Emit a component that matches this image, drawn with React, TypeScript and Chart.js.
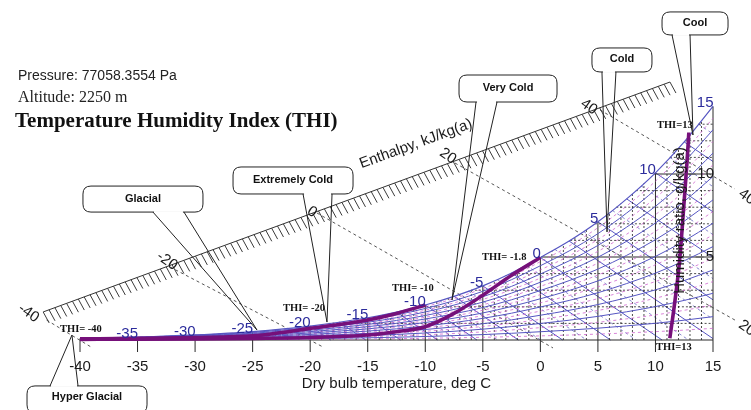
import React, { useEffect, useRef } from "react";
import { Chart, registerables } from "chart.js";

Chart.register(...registerables);

// ---------------- data ----------------
const PRESSURE_TEXT = "Pressure: 77058.3554 Pa";
const ALTITUDE_TEXT = "Altitude: 2250 m";
const TITLE_TEXT = "Temperature Humidity Index (THI)";
const X_TITLE = "Dry bulb temperature, deg C";
const Y_TITLE = "Humidity ratio, g/kg(a)";
const ENTH_TITLE = "Enthalpy, kJ/kg(a)";

const X_TICKS = [-40, -35, -30, -25, -20, -15, -10, -5, 0, 5, 10, 15];
const Y_TICKS = [5, 10];
const SAT_LABEL_T = [-35, -30, -25, -20, -15, -10, -5, 0, 5, 10, 15];

// saturation curve (dry bulb deg C, humidity ratio g/kg)
const SAT_T = [-40, -35, -30, -25, -20, -15, -12.5, -10, -7.5, -5, -2.5, 0, 2.5, 5, 7.5, 10, 12.5, 15];
const SAT_W = [0.1, 0.18, 0.31, 0.51, 0.84, 1.34, 1.68, 2.11, 2.63, 3.26, 4.04, 4.97, 5.96, 7.12, 8.5, 10.07, 11.93, 14.07];

const RH_LEVELS = [10, 20, 30, 40, 50, 60, 70, 80, 90];
const RH_HALF_LEVELS = [5, 15, 25, 35, 45, 55, 65, 75, 85, 95];
const WB_LEVELS = [-20, -17.5, -15, -12.5, -10, -7.5, -5, -2.5, 0, 2.5, 5, 7.5, 10, 12.5];
const WB_DASH_LEVELS = [-16.25, -13.75, -11.25, -8.75, -6.25, -3.75, -1.25, 1.25, 3.75, 6.25, 8.75, 11.25, 13.75];
const WB_SLOPE = 0.47; // g/kg per deg C

// enthalpy scale
const ENTH_LABELS = ["-40", "-20", "0", "20", "40"];
const ENTH_START_T = [-42.9, -32.18, -19.41, -7.42, 5.18];
const ENTH_START_W = [1.2, 4.4, 7.65, 10.66, 13.86];
const ENTH_END_T = [-38.9, -18.89, 1.1, 16.91, 16.9];
const ENTH_END_W = [-0.48, -0.42, -0.48, 1.2, 9.1];
const ENTH_END_LABELS = ["", "", "", "20", "40"];
const SCALE_T = [-43.2, 11.26];
const SCALE_W = [1.69, 15.54];

// THI curves
const THI_HIGH_T = [-40, -35, -30, -25, -22.5, -20, -17.5, -15, -12.5, -10];
const THI_HIGH_W = [0.07, 0.1, 0.15, 0.25, 0.45, 0.7, 0.93, 1.2, 1.6, 2.11];
const THI_LOW_T = [-40, -35, -30, -25, -20, -15, -12.5, -10, -7.5, -5, -2.5, 0];
const THI_LOW_W = [0.04, 0.05, 0.07, 0.1, 0.15, 0.3, 0.5, 0.8, 1.6, 2.7, 3.9, 4.97];
const THI13_T = [11.25, 11.7, 12.1, 12.55, 12.75, 12.9];
const THI13_W = [0.1, 2.4, 4.8, 8.9, 10.8, 12.5];

const THI_LABELS = ["THI= -40", "THI= -20", "THI= -10", "THI= -1.8", "THI=13", "THI=13"];
const THI_LABEL_T = [-41.74, -22.36, -12.89, -5.07, 10.13, 10.05];
const THI_LABEL_W = [0.48, 1.75, 2.95, 4.82, 12.77, -0.6];

const ZONES = ["Hyper Glacial", "Glacial", "Extremely Cold", "Very Cold", "Cold", "Cool"];
const ZONE_TIP_T = [-40.7, -24.62, -18.54, -7.68, 5.79, 13.26];
const ZONE_TIP_W = [0.3, 0.6, 1.08, 2.41, 6.51, 12.35];

// ---------------- layout / style ----------------
const CALLOUT_LAYOUT = [
  { boxT: -39.39, boxW: -3.58, width: 120, height: 27, tail: [-37, -9], side: "top" },
  { boxT: -34.53, boxW: 8.49, width: 120, height: 26, tail: [10, 41], side: "bottom" },
  { boxT: -21.49, boxW: 9.61, width: 120, height: 27, tail: [10, 39], side: "bottom" },
  { boxT: -2.81, boxW: 15.15, width: 98, height: 27, tail: [-32, -11], side: "bottom" },
  { boxT: 7.09, boxW: 16.87, width: 60, height: 24, tail: [-20, -6], side: "bottom" },
  { boxT: 13.44, boxW: 19.07, width: 66, height: 23, tail: [-23, -5], side: "bottom" },
];
const ENTH_LABEL_OFFSETS = [[-18, -7], [-3, -6], [-5, -1], [-7, -7], [-11, -3]];
const ENTH_TITLE_POS = { t: -10.81, w: 11.81 };
const Y_TITLE_POS = { t: 12.15, w: 7.2 };

const PURPLE = "#76107a";
const BLUE = "#5656c2";
const LABEL_BLUE = "#2c2c9c";
const MAGENTA = "rgba(205,95,205,0.85)";
const SANS = "'Liberation Sans', Arial, sans-serif";
const SERIF = "'Liberation Serif', 'Times New Roman', serif";

// ---------------- helpers ----------------
function interp(xs: number[], ys: number[], v: number) {
  if (v <= xs[0]) return ys[0];
  for (let i = 1; i < xs.length; i++) {
    if (v <= xs[i]) {
      const f = (v - xs[i - 1]) / (xs[i] - xs[i - 1]);
      return ys[i - 1] + f * (ys[i] - ys[i - 1]);
    }
  }
  return ys[ys.length - 1];
}
const satW = (t: number) => interp(SAT_T, SAT_W, t);
const satT = (w: number) => interp(SAT_W, SAT_T, w);
const zip = (a: number[], b: number[]) => a.map((v, i) => ({ x: v, y: b[i] }));

function line(ctx: CanvasRenderingContext2D, x0: number, y0: number, x1: number, y1: number) {
  ctx.beginPath();
  ctx.moveTo(x0, y0);
  ctx.lineTo(x1, y1);
  ctx.stroke();
}

const psychroPlugin = {
  id: "psychro",
  beforeDatasetsDraw(chart: any) {
    const { ctx } = chart;
    const xs = chart.scales.x;
    const ys = chart.scales.y;
    const X = (v: number) => xs.getPixelForValue(v);
    const Y = (v: number) => ys.getPixelForValue(v);
    ctx.save();
    ctx.lineWidth = 0.9;

    // dashed wet-bulb lines
    ctx.setLineDash([3, 3]);
    ctx.strokeStyle = "rgba(80,80,185,0.75)";
    for (const tw of WB_DASH_LEVELS) {
      const w0 = satW(tw);
      let t1 = tw + w0 / WB_SLOPE;
      let w1 = 0;
      if (t1 > 15) { t1 = 15; w1 = w0 - (15 - tw) * WB_SLOPE; }
      line(ctx, X(tw), Y(w0), X(t1), Y(w1));
    }

    // solid wet-bulb lines
    ctx.setLineDash([]);
    ctx.lineWidth = 1;
    ctx.strokeStyle = BLUE;
    for (const tw of WB_LEVELS) {
      const w0 = satW(tw);
      let t1 = tw + w0 / WB_SLOPE;
      let w1 = 0;
      if (t1 > 15) { t1 = 15; w1 = w0 - (15 - tw) * WB_SLOPE; }
      line(ctx, X(tw), Y(w0), X(t1), Y(w1));
    }

    // dotted grid
    ctx.setLineDash([2, 2]);
    ctx.strokeStyle = "rgba(20,20,20,0.75)";
    for (let t = -25; t < 15; t++) {
      if (t % 5 === 0) continue;
      line(ctx, X(t), Y(0), X(t), Y(satW(t)));
    }
    for (let w = 1; w < 15; w++) {
      if (w % 5 === 0) continue;
      const t0 = satT(w);
      if (t0 >= 15) continue;
      line(ctx, X(t0), Y(w), X(15), Y(w));
    }
    ctx.setLineDash([]);

    // solid black verticals and horizontals
    ctx.strokeStyle = "#2a2a2a";
    for (const t of X_TICKS) {
      line(ctx, X(t), Y(0) + 12, X(t), Y(satW(t)));
    }
    for (const w of Y_TICKS) {
      line(ctx, X(satT(w)), Y(w), X(15), Y(w));
    }
    line(ctx, X(-40), Y(0), X(15), Y(0));

    // enthalpy dashed lines
    ctx.setLineDash([3, 3]);
    ctx.strokeStyle = "#555";
    for (let i = 0; i < ENTH_LABELS.length; i++) {
      line(ctx, X(ENTH_START_T[i]), Y(ENTH_START_W[i]), X(ENTH_END_T[i]), Y(ENTH_END_W[i]));
    }
    ctx.setLineDash([]);

    // enthalpy scale with hatches
    const p0x = X(SCALE_T[0]), p0y = Y(SCALE_W[0]);
    const p1x = X(SCALE_T[1]), p1y = Y(SCALE_W[1]);
    ctx.strokeStyle = "#333";
    line(ctx, p0x, p0y, p1x, p1y);
    const len = Math.hypot(p1x - p0x, p1y - p0y);
    const n = Math.floor(len / 6.2);
    ctx.strokeStyle = "#3a3a3a";
    for (let i = 0; i <= n; i++) {
      const hx = p0x + ((p1x - p0x) * i) / n;
      const hy = p0y + ((p1y - p0y) * i) / n;
      line(ctx, hx, hy, hx + 6, hy + 11);
    }
    ctx.restore();
  },
  afterDatasetsDraw(chart: any) {
    const { ctx } = chart;
    const xs = chart.scales.x;
    const ys = chart.scales.y;
    const X = (v: number) => xs.getPixelForValue(v);
    const Y = (v: number) => ys.getPixelForValue(v);
    ctx.save();

    // saturation temperature labels
    ctx.font = `15px ${SANS}`;
    ctx.fillStyle = LABEL_BLUE;
    ctx.textAlign = "right";
    ctx.textBaseline = "alphabetic";
    for (const t of SAT_LABEL_T) {
      ctx.fillText(String(t), X(t) + 0.5, Y(satW(t)) + 1);
    }

    // x tick labels + title
    ctx.fillStyle = "#1a1a1a";
    ctx.textAlign = "center";
    for (const t of X_TICKS) ctx.fillText(String(t), X(t), Y(0) + 31);
    ctx.fillText(X_TITLE, (X(-40) + X(15)) / 2, Y(0) + 48);

    // y tick labels
    ctx.textAlign = "right";
    ctx.textBaseline = "middle";
    for (const w of Y_TICKS) {
      const label = String(w);
      const right = X(15) + 1;
      const wd = ctx.measureText(label).width;
      ctx.fillText(label, right, Y(w));
      ctx.strokeStyle = "#555";
      ctx.lineWidth = 1;
      line(ctx, right - wd - 10, Y(w), right - wd - 2, Y(w));
    }

    // y title
    ctx.save();
    ctx.translate(X(Y_TITLE_POS.t), Y(Y_TITLE_POS.w));
    ctx.rotate(-Math.PI / 2);
    ctx.textAlign = "center";
    ctx.textBaseline = "middle";
    ctx.fillText(Y_TITLE, 0, 0);
    ctx.restore();

    // enthalpy labels
    const ang = Math.atan2(Y(SCALE_W[1]) - Y(SCALE_W[0]), X(SCALE_T[1]) - X(SCALE_T[0]));
    ctx.save();
    ctx.translate(X(ENTH_TITLE_POS.t), Y(ENTH_TITLE_POS.w));
    ctx.rotate(ang);
    ctx.textAlign = "center";
    ctx.textBaseline = "middle";
    ctx.fillStyle = "#1a1a1a";
    ctx.fillText(ENTH_TITLE, 0, 0);
    ctx.restore();
    const rot = (35 * Math.PI) / 180;
    for (let i = 0; i < ENTH_LABELS.length; i++) {
      ctx.save();
      ctx.translate(X(ENTH_START_T[i]) + ENTH_LABEL_OFFSETS[i][0], Y(ENTH_START_W[i]) + ENTH_LABEL_OFFSETS[i][1]);
      ctx.rotate(rot);
      ctx.textAlign = "center";
      ctx.textBaseline = "middle";
      ctx.fillText(ENTH_LABELS[i], 0, 0);
      ctx.restore();
      if (ENTH_END_LABELS[i]) {
        ctx.save();
        ctx.translate(X(ENTH_END_T[i]) + 12, Y(ENTH_END_W[i]) + 8);
        ctx.rotate(rot);
        ctx.textAlign = "center";
        ctx.textBaseline = "middle";
        ctx.fillText(ENTH_END_LABELS[i], 0, 0);
        ctx.restore();
      }
    }

    // THI labels
    ctx.font = `bold 10.5px ${SERIF}`;
    ctx.fillStyle = "#111";
    ctx.textAlign = "left";
    ctx.textBaseline = "alphabetic";
    for (let i = 0; i < THI_LABELS.length; i++) {
      ctx.fillText(THI_LABELS[i], X(THI_LABEL_T[i]), Y(THI_LABEL_W[i]));
    }

    // callouts
    for (let i = 0; i < ZONES.length; i++) {
      const L = CALLOUT_LAYOUT[i];
      const cx = X(L.boxT), cy = Y(L.boxW);
      const l = cx - L.width / 2, t = cy - L.height / 2;
      const r = l + L.width, b = t + L.height, rad = 8;
      ctx.beginPath();
      ctx.moveTo(l + rad, t);
      ctx.lineTo(r - rad, t);
      ctx.quadraticCurveTo(r, t, r, t + rad);
      ctx.lineTo(r, b - rad);
      ctx.quadraticCurveTo(r, b, r - rad, b);
      ctx.lineTo(l + rad, b);
      ctx.quadraticCurveTo(l, b, l, b - rad);
      ctx.lineTo(l, t + rad);
      ctx.quadraticCurveTo(l, t, l + rad, t);
      ctx.closePath();
      ctx.fillStyle = "#fff";
      ctx.fill();
      ctx.strokeStyle = "#222";
      ctx.lineWidth = 1;
      ctx.stroke();
      const ey = L.side === "top" ? t : b;
      ctx.strokeStyle = "#fff";
      ctx.lineWidth = 2;
      line(ctx, cx + L.tail[0] + 1, ey, cx + L.tail[1] - 1, ey);
      ctx.strokeStyle = "#222";
      ctx.lineWidth = 1;
      const tx = X(ZONE_TIP_T[i]), ty = Y(ZONE_TIP_W[i]);
      ctx.beginPath();
      ctx.moveTo(cx + L.tail[0], ey);
      ctx.lineTo(tx, ty);
      ctx.lineTo(cx + L.tail[1], ey);
      ctx.stroke();
      ctx.font = `bold 11px ${SANS}`;
      ctx.fillStyle = "#111";
      ctx.textAlign = "center";
      ctx.textBaseline = "middle";
      const textY = L.side === "top" ? t + 11 : cy - 0.5;
      ctx.fillText(ZONES[i], cx, textY);
    }
    ctx.restore();
  },
};

export default function App() {
  const ref = useRef<HTMLCanvasElement>(null);
  useEffect(() => {
    const canvas = ref.current;
    if (!canvas) return;
    const base = { pointRadius: 0, fill: false, clip: false as any, showLine: true };
    const datasets: any[] = [
      { label: "THI high", data: zip(THI_HIGH_T, THI_HIGH_W), borderColor: PURPLE, borderWidth: 3.6, cubicInterpolationMode: "monotone", ...base },
      { label: "THI low", data: zip(THI_LOW_T, THI_LOW_W), borderColor: PURPLE, borderWidth: 3.6, cubicInterpolationMode: "monotone", ...base },
      { label: "THI 13", data: zip(THI13_T, THI13_W), borderColor: PURPLE, borderWidth: 3.6, cubicInterpolationMode: "monotone", ...base },
      { label: "Saturation", data: zip(SAT_T, SAT_W), borderColor: BLUE, borderWidth: 1.2, cubicInterpolationMode: "monotone", ...base },
      ...RH_LEVELS.map((rh) => ({
        label: `RH ${rh}%`,
        data: SAT_T.map((t, i) => ({ x: t, y: (SAT_W[i] * rh) / 100 })),
        borderColor: BLUE,
        borderWidth: 1,
        cubicInterpolationMode: "monotone",
        ...base,
      })),
      ...RH_HALF_LEVELS.map((rh) => ({
        label: `RH ${rh}%`,
        data: SAT_T.map((t, i) => ({ x: t, y: (SAT_W[i] * rh) / 100 })),
        borderColor: MAGENTA,
        borderWidth: 0.9,
        borderDash: [3, 3],
        cubicInterpolationMode: "monotone",
        ...base,
      })),
    ];
    const chart = new Chart(canvas, {
      type: "scatter",
      data: { datasets },
      options: {
        responsive: false,
        animation: false,
        events: [],
        layout: { padding: { left: 80, right: 38, top: 91, bottom: 70 } },
        plugins: { legend: { display: false }, tooltip: { enabled: false }, title: { display: false } },
        scales: {
          x: { type: "linear", min: -40, max: 15, display: false },
          y: { type: "linear", min: 0, max: 15, display: false },
        },
      } as any,
      plugins: [psychroPlugin as any],
    });
    return () => chart.destroy();
  }, []);

  return (
    <div style={{ position: "fixed", left: 0, top: 0, width: 751, height: 410, background: "#fff", overflow: "hidden" }}>
      <canvas ref={ref} width={751} height={410} style={{ position: "absolute", left: 0, top: 0, width: 751, height: 410 }} />
      <div style={{ position: "absolute", left: 18, top: 67.6, font: `14px ${SANS}`, lineHeight: "14px", color: "#222", whiteSpace: "nowrap" }}>
        {PRESSURE_TEXT}
      </div>
      <div style={{ position: "absolute", left: 18, top: 89.3, font: `16px ${SERIF}`, lineHeight: "16px", color: "#222", whiteSpace: "nowrap" }}>
        {ALTITUDE_TEXT}
      </div>
      <div style={{ position: "absolute", left: 15, top: 109.7, font: `bold 21px ${SERIF}`, lineHeight: "21px", color: "#111", whiteSpace: "nowrap" }}>
        {TITLE_TEXT}
      </div>
    </div>
  );
}
